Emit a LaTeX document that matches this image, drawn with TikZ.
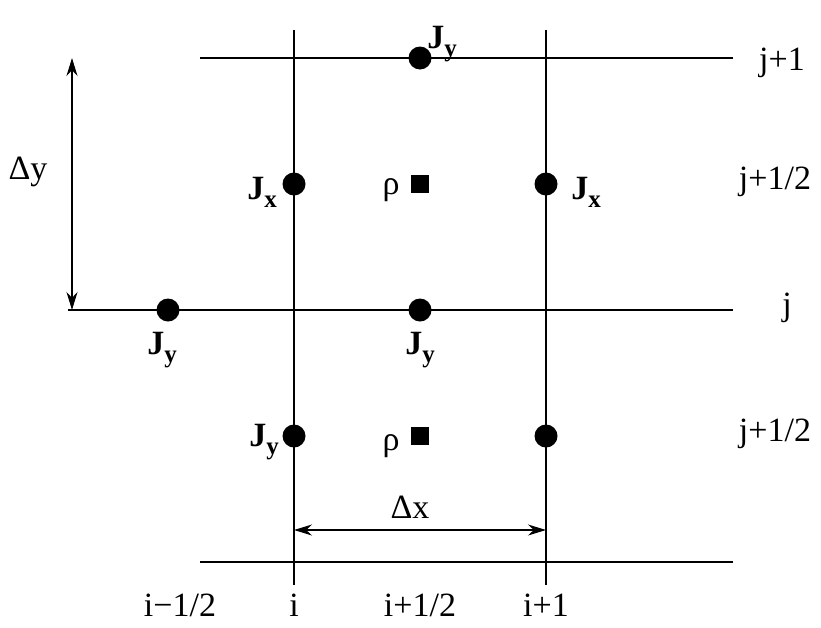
\documentclass[tikz,border=0pt]{standalone}
\usepackage{fontspec}
\setmainfont{Liberation Serif}
\usetikzlibrary{arrows.meta}
\newcommand{\JJ}[1]{\textbf{J\raisebox{-0.5ex}{\fontsize{25}{26}\selectfont #1}}}
\tikzset{x=1pt,y=-1pt,
 grid/.style={line width=1.3pt},
 dot/.style={circle,fill=black,minimum size=23pt,inner sep=0pt},
 sq/.style={rectangle,fill=black,minimum size=18pt,inner sep=0pt},
 lab/.style={font=\fontsize{34}{38}\selectfont,inner sep=0pt},
 dim/.style={line width=1.2pt,{Stealth[length=18pt,width=11pt]}-{Stealth[length=18pt,width=11pt]}}}
\begin{document}
\begin{tikzpicture}
\useasboundingbox (0,0) rectangle (821,627);
\coordinate (h1a) at (200,58); \coordinate (h1b) at (733,58);
\coordinate (h2a) at (68,310); \coordinate (h2b) at (733,310);
\coordinate (h3a) at (200,562); \coordinate (h3b) at (733,562);
\coordinate (v1a) at (294,30); \coordinate (v1b) at (294,585);
\coordinate (v2a) at (546,30); \coordinate (v2b) at (546,585);
\draw[grid] (h1a)--(h1b) (h2a)--(h2b) (h3a)--(h3b) (v1a)--(v1b) (v2a)--(v2b);
\node[dot] (d1) at (420,58) {};
\node[dot] (d2) at (294,184) {};
\node[dot] (d3) at (546,184) {};
\node[dot] (d4) at (168,310) {};
\node[dot] (d5) at (420,310) {};
\node[dot] (d6) at (294,436) {};
\node[dot] (d7) at (546,436) {};
\node[sq] (s1) at (420,184) {};
\node[sq] (s2) at (420,436) {};
\coordinate (ya) at (72,58); \coordinate (yb) at (72,310);
\draw[dim] (ya)--(yb);
\coordinate (xa) at (294,530); \coordinate (xb) at (546,530);
\draw[dim] (xa)--(xb);
\node[lab] (ldy) at (28,172) {Δy};
\node[lab] (ldx) at (410,507) {Δx};
\node[lab] (l1) at (442,44) {\JJ{y}};
\node[lab] (l2) at (262,192) {\JJ{x}};
\node[lab] (l3) at (586,192) {\JJ{x}};
\node[lab] (l4) at (162,350) {\JJ{y}};
\node[lab] (l5) at (420,350) {\JJ{y}};
\node[lab] (l6) at (264,442) {\JJ{y}};
\node[lab] (r1) at (391,190) {ρ};
\node[lab] (r2) at (391,446) {ρ};
\node[lab] (c1) at (782,63) {j+1};
\node[lab] (c2) at (775,182) {j+1/2};
\node[lab] (c3) at (787,308) {j};
\node[lab] (c4) at (775,434) {j+1/2};
\node[lab] (b1) at (180,605) {i−1/2};
\node[lab] (b2) at (294,605) {i};
\node[lab] (b3) at (420,605) {i+1/2};
\node[lab] (b4) at (546,605) {i+1};
\end{tikzpicture}
\end{document}
